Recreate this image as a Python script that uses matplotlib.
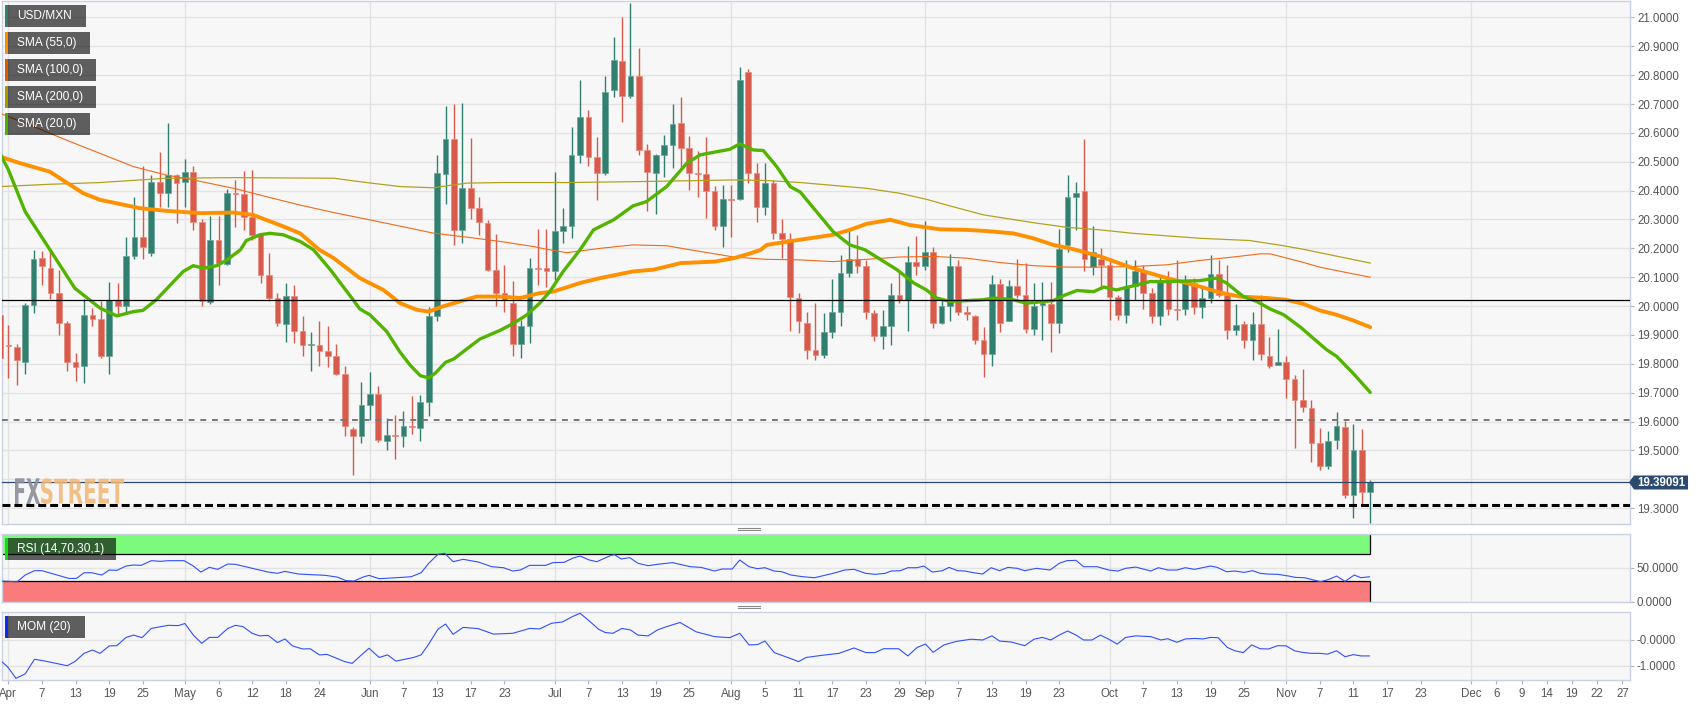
import numpy as np
import pandas as pd
import matplotlib
matplotlib.use('Agg')
import matplotlib.pyplot as plt
import matplotlib.transforms as mtransforms
from matplotlib.patches import Rectangle, PathPatch, Polygon
from matplotlib.lines import Line2D
from matplotlib.textpath import TextPath
from matplotlib.font_manager import FontProperties

W, H = 1707, 706
plt.rcParams['font.family'] = ['Liberation Sans', 'DejaVu Sans']

# daily USD/MXN candles, index -1 .. 162 (index 0 = 2022-04-01, business days)
opens = [19.97, 19.866, 19.858, 19.805, 20.005, 20.166, 20.131, 20.045, 19.941, 19.805,
         19.791, 19.970, 19.956, 19.828, 20.022, 20.001, 20.174, 20.239, 20.183, 20.431,
         20.393, 20.454, 20.431, 20.466, 20.293, 20.013, 20.23, 20.146, 20.393, 20.389,
         20.31, 20.247, 20.108, 20.028, 19.939, 20.036, 19.912, 19.864, 19.866, 19.843,
         19.826, 19.766, 19.574, 19.551, 19.659, 19.697, 19.532, 19.555, 19.551, 19.586,
         19.578, 19.669, 19.964, 20.458, 20.578, 20.262, 20.408, 20.339, 20.289, 20.126,
         20.047, 20.01, 19.87, 19.932, 20.131, 20.131, 20.123, 20.261, 20.276, 20.524,
         20.656, 20.516, 20.46, 20.749, 20.849, 20.728, 20.797, 20.541, 20.462, 20.524,
         20.558, 20.633, 20.549, 20.462, 20.458, 20.397, 20.278, 20.37, 20.37, 20.812,
         20.46, 20.343, 20.428, 20.253, 20.232, 20.028, 19.943, 19.849, 19.83, 19.909,
         19.981, 20.114, 20.162, 20.139, 19.976, 19.897, 19.93, 20.04, 20.022, 20.154,
         20.139, 20.189, 19.941, 20.001, 20.139, 19.981, 19.966, 19.883, 19.835, 20.076,
         19.95, 20.07, 20.04, 19.92, 20.005, 20.008, 19.943, 20.212, 20.377, 20.399,
         20.135, 20.162, 20.143, 20.031, 19.97, 20.07, 20.123, 20.047, 19.966, 20.085,
         19.99, 19.99, 20.08, 19.996, 20.028, 20.112, 20.04, 19.918, 19.939, 19.881,
         19.939, 19.828, 19.797, 19.805, 19.747, 19.674, 19.647, 19.524, 19.447, 19.535,
         19.581, 19.347, 19.501, 19.355]
highs = [20.00, 19.935, 19.87, 20.01, 20.195, 20.19, 20.19, 20.126, 19.95, 19.837,
         20.024, 19.993, 20.016, 20.082, 20.08, 20.239, 20.379, 20.485, 20.454, 20.535,
         20.635, 20.458, 20.509, 20.485, 20.30, 20.313, 20.313, 20.405, 20.437, 20.469,
         20.472, 20.253, 20.183, 20.047, 20.08, 20.074, 19.964, 19.909, 19.947, 19.932,
         19.868, 19.791, 19.58, 19.736, 19.77, 19.724, 19.612, 19.624, 19.635, 19.69,
         19.692, 19.996, 20.524, 20.693, 20.699, 20.702, 20.581, 20.379, 20.299, 20.25,
         20.143, 20.088, 19.953, 20.166, 20.266, 20.266, 20.466, 20.339, 20.619, 20.785,
         20.679, 20.587, 20.797, 20.931, 21.0, 21.051, 20.893, 20.562, 20.527, 20.593,
         20.70, 20.723, 20.589, 20.539, 20.587, 20.416, 20.42, 20.42, 20.829, 20.82,
         20.497, 20.495, 20.437, 20.301, 20.253, 20.047, 19.981, 20.01, 19.976, 20.093,
         20.178, 20.264, 20.247, 20.16, 19.985, 19.987, 20.08, 20.12, 20.209, 20.243,
         20.295, 20.204, 20.022, 20.181, 20.16, 19.999, 19.97, 19.927, 20.108, 20.093,
         20.091, 20.162, 20.149, 20.08, 20.085, 20.085, 20.266, 20.454, 20.431, 20.578,
         20.276, 20.20, 20.166, 20.04, 20.158, 20.16, 20.143, 20.062, 20.102, 20.12,
         20.16, 20.108, 20.097, 20.068, 20.178, 20.158, 20.143, 20.008, 19.947, 19.981,
         20.04, 19.893, 19.92, 19.828, 19.762, 19.782, 19.676, 19.578, 19.566, 19.632,
         19.601, 19.593, 19.574, 19.397]
lows = [19.78, 19.75, 19.728, 19.766, 19.976, 20.074, 20.024, 19.90, 19.774, 19.739,
        19.733, 19.932, 19.82, 19.766, 19.966, 19.976, 20.162, 20.162, 20.172, 20.345,
        20.345, 20.287, 20.343, 20.264, 20.001, 20.008, 20.074, 20.143, 20.275, 20.264,
        20.23, 20.08, 20.016, 19.932, 19.874, 19.872, 19.826, 19.774, 19.791, 19.789,
        19.762, 19.551, 19.416, 19.526, 19.604, 19.528, 19.503, 19.47, 19.512, 19.558,
        19.532, 19.62, 19.95, 20.354, 20.212, 20.22, 20.301, 20.247, 20.12, 19.999,
        19.978, 19.826, 19.82, 19.872, 20.074, 20.066, 20.091, 20.218, 20.235, 20.495,
        20.485, 20.368, 20.454, 20.725, 20.639, 20.72, 20.524, 20.331, 20.319, 20.446,
        20.477, 20.477, 20.402, 20.377, 20.304, 20.264, 20.206, 20.239, 20.366, 20.426,
        20.29, 20.316, 20.232, 20.166, 19.912, 19.907, 19.817, 19.814, 19.82, 19.889,
        19.932, 20.102, 20.116, 19.955, 19.878, 19.851, 19.866, 20.01, 19.912, 20.108,
        20.126, 19.924, 19.939, 19.947, 19.97, 19.953, 19.87, 19.754, 19.791, 19.909,
        19.947, 20.028, 19.907, 19.90, 19.881, 19.84, 19.907, 20.189, 20.264, 20.12,
        20.108, 20.068, 19.953, 19.953, 19.943, 20.022, 19.99, 19.941, 19.935, 19.97,
        19.953, 19.97, 19.972, 19.958, 20.01, 20.033, 19.886, 19.90, 19.855, 19.814,
        19.814, 19.785, 19.797, 19.682, 19.509, 19.632, 19.459, 19.431, 19.436, 19.505,
        19.336, 19.266, 19.316, 19.247]
closes = [19.82, 19.860, 19.814, 20.005, 20.162, 20.140, 20.045, 19.943, 19.805, 19.789,
          19.970, 19.956, 19.828, 20.022, 20.001, 20.172, 20.239, 20.204, 20.431, 20.393,
          20.454, 20.428, 20.466, 20.293, 20.016, 20.23, 20.149, 20.393, 20.389, 20.31,
          20.247, 20.108, 20.028, 19.943, 20.036, 19.912, 19.866, 19.868, 19.843, 19.826,
          19.766, 19.584, 19.551, 19.659, 19.697, 19.535, 19.555, 19.551, 19.586, 19.58,
          19.669, 19.964, 20.46, 20.578, 20.262, 20.408, 20.339, 20.293, 20.126, 20.047,
          20.02, 19.87, 19.932, 20.131, 20.129, 20.123, 20.261, 20.276, 20.524, 20.656,
          20.518, 20.46, 20.743, 20.852, 20.728, 20.797, 20.541, 20.466, 20.524, 20.558,
          20.631, 20.549, 20.462, 20.458, 20.397, 20.278, 20.37, 20.368, 20.785, 20.46,
          20.343, 20.428, 20.253, 20.232, 20.033, 19.947, 19.849, 19.83, 19.909, 19.981,
          20.114, 20.162, 20.139, 19.978, 19.897, 19.93, 20.04, 20.022, 20.154, 20.139,
          20.189, 19.941, 19.999, 20.139, 19.981, 19.972, 19.883, 19.835, 20.076, 19.943,
          20.07, 20.04, 19.92, 20.001, 20.008, 19.943, 20.197, 20.377, 20.391, 20.162,
          20.189, 20.143, 20.031, 19.97, 20.07, 20.123, 20.047, 19.966, 20.085, 19.99,
          19.985, 20.085, 19.996, 20.028, 20.112, 20.04, 19.918, 19.935, 19.881, 19.939,
          19.835, 19.793, 19.808, 19.747, 19.674, 19.65, 19.524, 19.447, 19.532, 19.584,
          19.344, 19.501, 19.355, 19.39091]

# moving averages (position, value)
sma20_pos = [-1, 0, 2, 4.95, 7.9, 10.9, 12.9, 14.9, 16, 17.6, 20.8, 22, 23.2, 24.8, 26, 27.6, 28.3, 29.9,
             31.1, 32.7, 34.7, 36.3, 38.3, 41, 41.8, 43, 45, 46.6, 47.8, 49, 50, 50.8, 52, 53, 54.5,
             56.1, 58.5, 60, 61.7, 63.2, 64.4, 66, 68, 69.6, 72, 74.3, 75.9, 78.3, 80.7, 82.3, 84.3,
             85.8, 87, 88.6, 89.8, 91.4, 93, 94.2, 98.1, 100.1, 101.9, 105.7, 107.7, 109.2, 110.4,
             112, 116, 117.2, 119.5, 121.1, 124.3, 125.5, 127.1, 129.1, 130.3, 131.8, 133.8, 135.8,
             137.8, 141.7, 143.7, 144.9, 146.9, 148.5, 150.1, 151.7, 153.7, 155.2, 156.8, 158, 160, 162]
sma20_val = [20.529, 20.472, 20.327, 20.195, 20.062, 19.993, 19.966, 19.981, 19.985, 20.022, 20.12, 20.14,
             20.131, 20.14, 20.16, 20.195, 20.227, 20.247, 20.252, 20.247, 20.224, 20.195, 20.126, 20.022,
             19.99, 19.97, 19.912, 19.84, 19.795, 19.759, 19.751, 19.768, 19.805, 19.817, 19.851, 19.886,
             19.916, 19.939, 19.97, 20.01, 20.05, 20.12, 20.195, 20.264, 20.299, 20.347, 20.362, 20.414,
             20.495, 20.524, 20.535, 20.543, 20.562, 20.541, 20.539, 20.483, 20.414, 20.395, 20.258,
             20.212, 20.195, 20.126, 20.08, 20.056, 20.028, 20.016, 20.022, 20.028, 20.022, 20.01,
             20.019, 20.036, 20.054, 20.05, 20.066, 20.056, 20.07, 20.085, 20.085, 20.088, 20.097,
             20.08, 20.033, 20.016, 19.99, 19.97, 19.927, 19.889, 19.849, 19.826, 19.766, 19.701]
sma55_pos = [-1, 1.4, 4.9, 8.9, 10.9, 15.7, 18.8, 22.8, 26.8, 29.1, 32.7, 34.7, 37, 38.7, 41.8, 44.6, 46.6,
             48.6, 50, 51.7, 55.7, 58.5, 60.9, 63.2, 64.8, 68, 70.4, 74.3, 76.7, 80, 84, 86.3, 88.3, 89.5,
             90.2, 94.2, 98.1, 100.1, 102.1, 104.9, 107.2, 110.8, 114, 116.4, 119.5, 121.9, 124.3, 126.7,
             129.9, 133.8, 137.8, 141.7, 144.1, 146.5, 149.7, 152, 154, 156, 158, 160, 162]
sma55_val = [20.518, 20.495, 20.466, 20.391, 20.368, 20.339, 20.33, 20.322, 20.324, 20.316, 20.276, 20.252,
             20.195, 20.166, 20.097, 20.056, 20.01, 19.987, 19.981, 19.999, 20.033, 20.033, 20.028, 20.045,
             20.05, 20.08, 20.097, 20.12, 20.126, 20.149, 20.154, 20.166, 20.183, 20.195, 20.212, 20.23,
             20.247, 20.264, 20.285, 20.299, 20.281, 20.266, 20.264, 20.26, 20.252, 20.235, 20.212, 20.197,
             20.172, 20.131, 20.097, 20.068, 20.047, 20.033, 20.028, 20.022, 20.008, 19.985, 19.97, 19.95,
             19.927]
sma100_pos = [-1, 3, 6.9, 10.9, 14.9, 18.8, 22, 26.8, 30.7, 34.7, 38.7, 42.6, 46.6, 50.5, 54.5, 58.5, 62.5,
              64, 66.4, 70.4, 74.3, 78.3, 80.7, 86.3, 90.2, 94.2, 98.1, 102.1, 106, 110, 114, 117.9, 121.9,
              125.9, 129.9, 133.8, 137.8, 141.7, 145.7, 148.9, 150.1, 153.7, 156, 159.2, 162]
sma100_val = [20.668, 20.622, 20.575, 20.529, 20.483, 20.454, 20.437, 20.408, 20.379, 20.35, 20.324, 20.301,
              20.277, 20.253, 20.239, 20.224, 20.206, 20.197, 20.185, 20.2, 20.212, 20.209, 20.197, 20.17,
              20.162, 20.16, 20.154, 20.162, 20.17, 20.172, 20.166, 20.151, 20.14, 20.135, 20.135, 20.137,
              20.143, 20.158, 20.17, 20.181, 20.181, 20.154, 20.135, 20.116, 20.1]
sma200_pos = [-1, 4.9, 10.9, 18.8, 26.8, 38.7, 42.6, 46.6, 50.5, 54.5, 58.5, 66.4, 74.3, 86.3, 90.2, 94.2,
              102.1, 106, 109.2, 112, 116, 121.9, 125.9, 129.9, 133.8, 141.7, 147.7, 151.7, 154, 162]
sma200_val = [20.414, 20.422, 20.428, 20.443, 20.445, 20.443, 20.428, 20.414, 20.41, 20.426, 20.428, 20.428,
              20.431, 20.437, 20.435, 20.428, 20.408, 20.391, 20.37, 20.347, 20.316, 20.289, 20.273, 20.264,
              20.252, 20.235, 20.227, 20.209, 20.197, 20.149]

rsi_pos = [-1, 1.05, 2, 3.1, 4, 7.2, 8.1, 9, 9.9, 11.1, 12, 12.9, 14, 14.9, 15.8, 17, 18.1, 19, 20.9, 22, 22.9,
           23.9, 24.9, 26.1, 27, 29, 30.9, 32, 32.9, 34.5, 37.7, 39.1, 40.2, 41.1, 42.3, 42.9, 44.1, 46.8, 47.9,
           49.1, 50, 51.1, 51.9, 52.9, 54.1, 55.9, 57.5, 58.9, 60, 60.9, 62, 63.9, 64.8, 66.1, 67.1, 68, 69.1,
           70, 71.7, 72.1, 72.9, 73.9, 74.9, 76.1, 77.2, 79, 81.1, 82.4, 84, 84.9, 86.1, 87, 88.1, 89.1, 90,
           91.1, 92, 93.1, 94.5, 95.9, 98.1, 99.5, 100.6, 102, 103.1, 104.3, 105, 106.1, 107, 108.1, 108.9,
           109.9, 111.1, 111.9, 112.9, 113.8, 114.8, 115.9, 116.9, 117.9, 118.9, 120, 120.9, 122.3, 123.9,
           125, 125.9, 127, 127.9, 129.5, 130.9, 132, 132.9, 134.1, 135.9, 136.8, 137.9, 139, 140, 141.1,
           143, 143.8, 144.9, 145.9, 147, 148, 148.9, 149.7, 151, 152.3, 153.1, 154.2, 156.1, 157.1, 158,
           159, 160.1, 160.9, 161.9]
rsi_val = [30.5, 29.5, 39.4, 45.8, 45.8, 34.4, 34.4, 42.8, 42.8, 39.4, 46.8, 46.3, 52.7, 54.2, 53.7, 60.6,
           59.6, 60.6, 60.6, 52.7, 43.8, 50.7, 47.8, 55.7, 55.2, 49.3, 43.8, 41.9, 44.8, 40.9, 38.9, 36.4,
           31, 30.5, 36.9, 38.9, 34, 35.9, 36.9, 42.8, 56.7, 70, 71.5, 59.1, 62.6, 58.6, 51.7, 50.2, 45.3,
           46.8, 53.7, 53.7, 57.7, 58.1, 64.1, 67.5, 61.6, 59.1, 68.5, 69.5, 63.1, 65.1, 56.7, 53.2, 55.2,
           57.7, 51.7, 50.7, 45.3, 48.3, 48.3, 61.6, 51.7, 48.8, 50.2, 45.3, 44.3, 39.4, 36.9, 35.4, 41.9,
           46.8, 47.8, 41.9, 40.4, 41.9, 45.3, 45.8, 50.2, 50.2, 52.7, 43.8, 45.8, 50.7, 45.8, 45.3, 42.8,
           40.9, 50.2, 45.8, 50.7, 49.3, 45.8, 49.3, 46.8, 56.7, 60.6, 61.1, 51.7, 51.7, 46.8, 45.3, 49.3,
           51.2, 45.3, 50.2, 46.8, 46.8, 50.2, 47.8, 52.7, 50.7, 44.3, 45.3, 43.3, 45.8, 41.9, 40.9, 40.4,
           37.9, 35.9, 35.4, 29.5, 33, 37.9, 30, 39.4, 35.4, 36.9]

mom_pos = [-1, -0.1, 0.9, 2, 3.1, 4.2, 7, 7.9, 9, 10, 10.9, 12, 12.9, 14, 14.9, 15.9, 17, 19, 20.2, 21, 22, 23,
           23.9, 24.9, 26.1, 27, 27.9, 29, 29.9, 30.9, 32, 32.9, 33.8, 35, 35.9, 37, 37.9, 40, 40.9, 42, 42.9,
           44.1, 45.1, 46.1, 48.2, 49.1, 50, 51.1, 52, 52.9, 54.1, 55.9, 57.7, 60, 62, 63.2, 64.6, 65.9,
           67.1, 68, 69.1, 70.2, 71, 71.9, 73, 74, 74.9, 76.1, 77.2, 78.3, 79.9, 81.8, 84, 85.8, 87, 88.1,
           89.1, 90, 91.1, 92.7, 94, 94.9, 96.7, 98.8, 99.9, 100.6, 102, 103.1, 104.1, 105.9, 107, 108.1,
           109.1, 110, 111.3, 112.7, 114.5, 115.9, 117, 117.9, 119.3, 120.9, 122, 123, 124, 125, 126, 127,
           127.9, 128.9, 129.9, 130.9, 131.9, 132.9, 134.1, 135.9, 137.1, 137.9, 139, 140, 141.1, 142.1,
           143, 143.9, 145, 145.9, 146.9, 147.9, 148.9, 149.9, 151, 152, 153, 153.9, 155, 156, 156.9, 158,
           159, 160, 160.9, 161.9]
mom_val = [-0.78, -1.04, -1.49, -1.32, -0.75, -0.81, -1.0, -0.84, -0.52, -0.39, -0.52, -0.23, -0.22, 0.1,
           0.19, 0.09, 0.45, 0.57, 0.56, 0.64, 0.19, -0.13, 0.1, 0.1, 0.45, 0.57, 0.52, 0.26, 0.16, 0.18,
           -0.1, 0.04, -0.23, -0.35, -0.34, -0.58, -0.56, -0.84, -0.91, -0.58, -0.32, -0.68, -0.58, -0.82,
           -0.68, -0.58, -0.16, 0.42, 0.62, 0.22, 0.49, 0.44, 0.23, 0.26, 0.45, 0.43, 0.65, 0.7, 0.91, 1.04,
           0.74, 0.42, 0.29, 0.26, 0.45, 0.39, 0.19, 0.16, 0.39, 0.52, 0.68, 0.32, 0.13, 0.09, 0.26, -0.19,
           -0.18, -0.04, -0.49, -0.68, -0.84, -0.68, -0.6, -0.52, -0.39, -0.31, -0.49, -0.49, -0.34, -0.34,
           -0.62, -0.29, -0.16, -0.48, -0.19, -0.06, 0.03, 0.0, 0.16, -0.04, -0.08, -0.22, 0.03, 0.1, 0.0,
           0.19, 0.35, 0.19, 0.0, 0.0, 0.19, 0.03, -0.16, 0.1, 0.16, 0.13, 0.0, 0.05, -0.09, 0.04, 0.06,
           0.04, 0.1, 0.09, -0.29, -0.42, -0.49, -0.19, -0.34, -0.35, -0.22, -0.23, -0.42, -0.48, -0.52,
           -0.52, -0.55, -0.42, -0.65, -0.57, -0.62, -0.62]

tick_dates = ['2022-04-01', '2022-04-07', '2022-04-13', '2022-04-19', '2022-04-25', '2022-05-02',
              '2022-05-06', '2022-05-12', '2022-05-18', '2022-05-24', '2022-06-01', '2022-06-07',
              '2022-06-13', '2022-06-17', '2022-06-23', '2022-07-01', '2022-07-07', '2022-07-13',
              '2022-07-19', '2022-07-25', '2022-08-01', '2022-08-05', '2022-08-11', '2022-08-17',
              '2022-08-23', '2022-08-29', '2022-09-01', '2022-09-07', '2022-09-13', '2022-09-19',
              '2022-09-23', '2022-10-03', '2022-10-07', '2022-10-13', '2022-10-19', '2022-10-25',
              '2022-11-01', '2022-11-07', '2022-11-11', '2022-11-17', '2022-11-23', '2022-12-01',
              '2022-12-06', '2022-12-09', '2022-12-14', '2022-12-19', '2022-12-22', '2022-12-27']

last_price = 19.39091
level_solid = 20.022
level_dashed = 19.604
level_thick = 19.31

GREEN, RED = '#31806f', '#d85a4a'
GRID = '#e3e3e3'

# ---- x positions / labels ---------------------------------------------------------------------
bdays = pd.bdate_range('2022-04-01', '2022-12-30')
tick_pos, tick_labels, month_pos = [], [], []
for d in pd.to_datetime(tick_dates):
    p = bdays.get_loc(d)
    first = pd.bdate_range(d.replace(day=1), periods=1)[0] == d
    tick_pos.append(p)
    tick_labels.append(d.strftime('%b') if first else str(d.day))
    if first:
        month_pos.append(p)

fig = plt.figure(figsize=(W / 100, H / 100), dpi=100)
fig.patch.set_facecolor('white')


def px_axes(x0, y0, x1, y1):
    return fig.add_axes([x0 / W, 1 - y1 / H, (x1 - x0) / W, (y1 - y0) / H])


ax = px_axes(2, 1, 1630, 524)
ax_rsi = px_axes(2, 534, 1630, 601.7)
ax_mom = px_axes(2, 611.7, 1630, 680)

for a in (ax, ax_rsi, ax_mom):
    a.set_facecolor('#f7f7f7')
    a.set_xlim(-0.76, 192.9)
    a.set_axisbelow(True)
    for s in a.spines.values():
        s.set_color('#c9d1e2')
        s.set_linewidth(1)
    for m in month_pos:
        a.axvline(m, color=GRID, lw=1, zorder=0)
    a.yaxis.tick_right()
    a.tick_params(axis='y', length=3, width=0.8, color='#aab3c6', labelsize=8.3, labelcolor='#555555', pad=2)
    a.grid(axis='y', color=GRID, lw=1)
    if a is not ax_mom:
        a.tick_params(axis='x', bottom=False, labelbottom=False)

# ---- main panel -------------------------------------------------------------------------------
ax.set_ylim(19.245, 21.057)
yt = np.round(np.arange(19.3, 21.05, 0.1), 1)
ax.set_yticks(yt, ['' if abs(v - 19.4) < 1e-6 else f'{v:.4f}' for v in yt])

x = np.arange(-1, 163)
o, c = np.array(opens), np.array(closes)
hi = np.maximum(np.array(highs), np.maximum(o, c))
lo = np.minimum(np.array(lows), np.minimum(o, c))
up = c >= o
col = np.where(up, GREEN, RED)
edge = np.where(up, '#6aa396', '#e8897d')
ax.vlines(x, lo, hi, colors=col, lw=1, zorder=3)
ax.bar(x, np.maximum(np.abs(c - o), 0.004), bottom=np.minimum(o, c), width=0.68,
       color=col, edgecolor=edge, linewidth=0.5, zorder=4)

ax.plot(sma200_pos, sma200_val, color='#b3a21c', lw=0.9, zorder=5)
ax.plot(sma100_pos, sma100_val, color='#f06a18', lw=0.8, zorder=5)
ax.plot(sma55_pos, sma55_val, color='#ff9100', lw=2.8, zorder=6, solid_capstyle='round')
ax.plot(sma20_pos, sma20_val, color='#52b300', lw=2.4, zorder=6, solid_capstyle='round')

ax.axhline(level_solid, color='black', lw=0.9, zorder=7)
ax.axhline(level_dashed, color='#777777', lw=1.4, ls=(0, (3, 3)), zorder=7)
ax.axhline(last_price, color='#2b4a72', lw=0.9, zorder=7)
ax.axhline(level_thick, color='black', lw=2.2, ls=(0, (2.6, 1.3)), zorder=7)

# ---- RSI panel --------------------------------------------------------------------------------
ax_rsi.set_ylim(0, 100)
ax_rsi.set_yticks([0, 50], ['0.0000', '50.0000'])
band_end = x[-1]
ax_rsi.fill_between([-0.76, band_end], 70, 100, color='#7cfa7c', zorder=1, lw=0)
ax_rsi.fill_between([-0.76, band_end], 0, 30, color='#fa7b7b', zorder=1, lw=0)
ax_rsi.hlines([70, 30], -0.76, band_end, colors='black', lw=0.9, zorder=2)
ax_rsi.vlines(band_end, 70, 100, colors='black', lw=0.9, zorder=2)
ax_rsi.vlines(band_end, 0, 30, colors='black', lw=0.9, zorder=2)
ax_rsi.plot(rsi_pos, rsi_val, color='#3050ff', lw=0.8, zorder=4)

# ---- MOM panel --------------------------------------------------------------------------------
ax_mom.set_ylim(-1.556, 1.10)
ax_mom.set_yticks([-1, 0], ['-1.0000', '-0.0000'])
ax_mom.plot(mom_pos, mom_val, color='#3050ff', lw=0.8, zorder=4)
ax_mom.set_xticks(tick_pos, tick_labels)
ax_mom.tick_params(axis='x', length=3, width=0.8, color='#aab3c6', labelsize=8.3, labelcolor='#555555', pad=3)


# ---- overlays in figure pixels ----------------------------------------------------------------
def rect(x0, y0, x1, y1, color, alpha=1.0):
    fig.add_artist(Rectangle((x0 / W, 1 - y1 / H), (x1 - x0) / W, (y1 - y0) / H,
                             transform=fig.transFigure, facecolor=color, edgecolor='none', alpha=alpha))


def label_box(x1, y0, y1, strip, text):
    rect(5, y0, 8, y1, strip)
    rect(8, y0, x1, y1, 'black', 0.62)
    fig.text(17.3 / W, 1 - (y0 + y1) / 2 / H, text, color='white', fontsize=8.6, va='center', ha='left')


label_box(86, 5, 26.7, '#2e8070', 'USD/MXN')
label_box(90, 32.3, 54, '#ff8c00', 'SMA (55,0)')
label_box(96, 59.3, 80.7, '#e05a00', 'SMA (100,0)')
label_box(96, 86, 107.7, '#a69a00', 'SMA (200,0)')
label_box(90, 113.3, 135, '#4caf00', 'SMA (20,0)')
label_box(115.7, 538.3, 560, '#11dd11', 'RSI (14,70,30,1)')
label_box(85, 616, 637.7, '#0a2bff', 'MOM (20)')

# price tag
tag = [(1629, 482.3), (1634, 475.5), (1688, 475.5), (1688, 489.5), (1634, 489.5)]
fig.add_artist(Polygon([(px / W, 1 - py / H) for px, py in tag], closed=True,
                       transform=fig.transFigure, facecolor='#2b4a6f', edgecolor='none'))
fig.text(1661 / W, 1 - 482.5 / H, f'{last_price:.5f}', color='white', fontsize=8.3,
         fontweight='bold', va='center', ha='center')

# pane drag handles
for yy in (527.7, 529.7, 606.3, 608.3):
    fig.add_artist(Line2D([738 / W, 760 / W], [1 - yy / H, 1 - yy / H], transform=fig.transFigure,
                          color='#8a8a8a', lw=0.8))


# watermark
def stretched_text(s, x0, y0, x1, y1, color, alpha):
    tp = TextPath((0, 0), s, size=10, prop=FontProperties(family='DejaVu Sans', weight='bold'))
    ext = tp.get_extents()
    tr = (mtransforms.Affine2D().translate(-ext.x0, -ext.y0)
          .scale((x1 - x0) / ext.width / W, (y1 - y0) / ext.height / H)
          .translate(x0 / W, 1 - y1 / H) + fig.transFigure)
    fig.add_artist(PathPatch(tp, transform=tr, facecolor=color, edgecolor='none', alpha=alpha))


stretched_text('FX', 15, 478.3, 40, 504, '#8a8f99', 0.9)
stretched_text('STREET', 41, 478.3, 124, 504, '#f2b674', 0.85)

fig.savefig('out.png', dpi=100)
